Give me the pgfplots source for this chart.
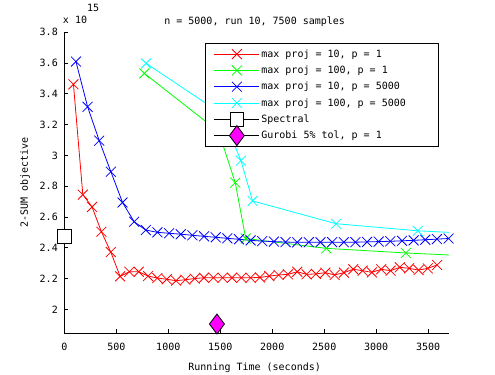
\documentclass[border=0pt]{standalone}
\usepackage{fontspec}
\setmainfont{DejaVu Sans Mono}
\usepackage{pgfplots}
\pgfplotsset{compat=1.18}
\newcommand\fs{\fontsize{10bp}{12bp}\selectfont}
\definecolor{mred}{RGB}{255,0,0}
\definecolor{mgreen}{RGB}{0,255,0}
\definecolor{mblue}{RGB}{0,0,255}
\definecolor{mcyan}{RGB}{0,255,255}
\definecolor{mmag}{RGB}{255,0,255}
\begin{document}
\begin{tikzpicture}[font=\fs]
\begin{axis}[
    name=ax,
    scale only axis, width=384.7bp, height=301bp,
    xmin=0, xmax=3700, ymin=1.844, ymax=3.8,
    axis lines=left,
    axis line style={-, line width=0.8bp},
    tick align=inside, major tick length=4bp,
    every tick/.style={black, line width=0.8bp},
    xtick={0,500,1000,1500,2000,2500,3000,3500},
    ytick={2,2.2,2.4,2.6,2.8,3,3.2,3.4,3.6,3.8},
    /pgf/number format/1000 sep={},
    /pgf/number format/assume math mode=true,
    ticklabel style={font=\fs},
    xticklabel style={yshift=-6bp},
    yticklabel style={xshift=-3bp},
    clip=false,
    legend cell align=left,
    legend image code/.code={
        \draw[overlay, #1, mark indices={2}] plot coordinates {(0bp,0bp) (22.5bp,0bp) (45bp,0bp)};
        \path[draw=none, fill=none] (0bp,-2bp) rectangle (45bp,2bp);
    },
    legend style={at={(0.3657,0.9654)}, anchor=north west, draw=black, line width=0.8bp,
        fill=white, font=\fs, inner xsep=9bp, inner ysep=4.5bp, row sep=3.2bp},
]
% max proj = 10, p = 1
\addplot[mred, line width=0.8bp, mark=x, mark size=7bp] coordinates {
 (88,3.462) (178,2.745) (267,2.665) (357,2.504) (447,2.372) (537,2.214)
 (626,2.244) (716,2.244) (806,2.216) (895,2.203) (985,2.195) (1075,2.186)
 (1164,2.192) (1254,2.200) (1344,2.205) (1434,2.205) (1523,2.205) (1613,2.205)
 (1703,2.205) (1792,2.205) (1882,2.207) (1972,2.216) (2061,2.223) (2151,2.227)
 (2241,2.244) (2330,2.227) (2420,2.230) (2510,2.238) (2600,2.223) (2689,2.238)
 (2779,2.260) (2869,2.251) (2958,2.240) (3048,2.260) (3138,2.251) (3227,2.273)
 (3317,2.266) (3407,2.255) (3496,2.266) (3586,2.288)
};
\addlegendentry{max proj = 10, p = 1}
% max proj = 100, p = 1
\addplot[mgreen, line width=0.8bp, mark=x, mark size=7bp, mark indices={1,2,3,4,5,6}] coordinates {
 (770,3.533) (1484,3.155) (1644,2.823) (1745,2.460) (2520,2.396) (3285,2.366) (3698,2.353)
};
\addlegendentry{max proj = 100, p = 1}
% max proj = 10, p = 5000
\addplot[mblue, line width=0.8bp, mark=x, mark size=7bp] coordinates {
 (112,3.610) (224,3.316) (336,3.096) (448,2.894) (560,2.694) (672,2.569)
 (784,2.515) (896,2.500) (1008,2.494) (1120,2.488) (1232,2.481) (1344,2.474)
 (1456,2.468) (1568,2.461) (1680,2.455) (1792,2.448) (1904,2.443) (2016,2.440)
 (2128,2.437) (2240,2.435) (2352,2.436) (2464,2.436) (2576,2.436) (2688,2.436)
 (2800,2.436) (2912,2.438) (3024,2.440) (3136,2.442) (3248,2.445) (3360,2.448)
 (3472,2.452) (3584,2.456) (3696,2.460)
};
\addlegendentry{max proj = 10, p = 5000}
% max proj = 100, p = 5000
\addplot[mcyan, line width=0.8bp, mark=x, mark size=7bp, mark indices={1,2,3,4,5,6}] coordinates {
 (787,3.598) (1516,3.269) (1699,2.966) (1811,2.704) (2614,2.556) (3400,2.510) (3698,2.500)
};
\addlegendentry{max proj = 100, p = 5000\hspace*{22bp}}
% Spectral
\addplot[black, line width=0.8bp, mark=square*, mark size=6.8bp, mark options={fill=white}] coordinates {(0,2.473)};
\addlegendentry{Spectral}
% Gurobi
\addplot[black, line width=0.8bp, mark=diamond*, mark size=10bp, mark options={fill=mmag}] coordinates {(1468,1.904)};
\addlegendentry{Gurobi 5\% tol, p = 1}
\end{axis}
\node[anchor=base] at ([shift={(-2bp,8bp)}]ax.north) {n = 5000, run 10, 7500 samples};
\node[anchor=base west, inner sep=0pt] at ([shift={(-1.5bp,9bp)}]ax.north west) {x 10\raisebox{11.5bp}{15}};
\node[anchor=base] at ([shift={(-2bp,-37.4bp)}]ax.south) {Running Time (seconds)};
\node[rotate=90, anchor=center] at ([xshift=-39.3bp]ax.west) {2-SUM objective};
\pgfresetboundingbox
\path ([shift={(-64.3bp,-41.7bp)}]ax.south west) rectangle ([shift={(46bp,32.3bp)}]ax.north east);
\end{tikzpicture}
\end{document}
